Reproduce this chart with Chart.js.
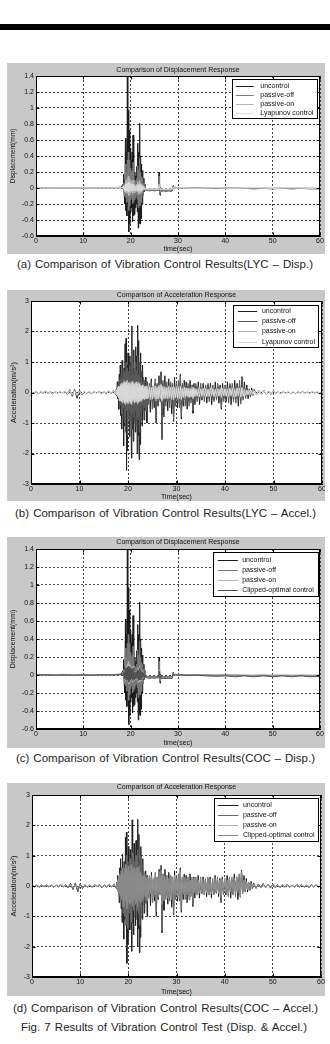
<!DOCTYPE html>
<html lang="en">
<head>
<meta charset="UTF-8">
<title>Fig. 7 Results of Vibration Control Test</title>
<script src="https://cdn.jsdelivr.net/npm/chart.js@4.4.0/dist/chart.umd.min.js"></script>
<style>
  body { margin: 0; width: 330px; height: 1044px; overflow: hidden; background: #fff; position: relative;
         font-family: "Liberation Sans", Arial, sans-serif; }
  .bar { position: absolute; left: 0; top: 24px; width: 330px; height: 6px; background: #000; }
  .panel { position: absolute; left: 7px; width: 318px; background: #c8c8c8; }
  .panel canvas { display: block; }
  .cap { position: absolute; font-size: 11.5px; line-height: 13px; color: #1e1e1e;
         text-align: justify; text-align-last: justify; }
</style>
</head>
<body>
<div class="bar"></div>

<div class="panel" style="top:63px;height:191px"><canvas id="chartA" width="318" height="191"></canvas></div>
<div class="cap" style="left:17px;top:258px;width:296px">(a) Comparison of Vibration Control Results(LYC – Disp.)</div>

<div class="panel" style="top:290px;height:211px"><canvas id="chartB" width="318" height="211"></canvas></div>
<div class="cap" style="left:15px;top:507px;width:301px">(b) Comparison of Vibration Control Results(LYC – Accel.)</div>

<div class="panel" style="top:537px;height:211px"><canvas id="chartC" width="318" height="211"></canvas></div>
<div class="cap" style="left:16px;top:752px;width:299px">(c) Comparison of Vibration Control Results(COC – Disp.)</div>

<div class="panel" style="top:783px;height:213px"><canvas id="chartD" width="318" height="213"></canvas></div>
<div class="cap" style="left:13px;top:1002px;width:305px">(d) Comparison of Vibration Control Results(COC – Accel.)</div>
<div class="cap" style="left:21px;top:1021px;width:286px">Fig. 7 Results of Vibration Control Test (Disp. &amp; Accel.)</div>

<script>
// ---------- axis ticks ----------
const timeTicks = [0, 10, 20, 30, 40, 50, 60];
const timeTickLabels = ['0', '10', '20', '30', '40', '50', '60'];
const dispTicks = [-0.6, -0.4, -0.2, 0, 0.2, 0.4, 0.6, 0.8, 1, 1.2, 1.4];
const dispTickLabels = ['-0.6', '-0.4', '-0.2', '0', '0.2', '0.4', '0.6', '0.8', '1', '1.2', '1.4'];
const accTicks = [-3, -2, -1, 0, 1, 2, 3];
const accTickLabels = ['-3', '-2', '-1', '0', '1', '2', '3'];

const labelsLyc = ['uncontrol', 'passive-off', 'passive-on', 'Lyapunov control'];
const labelsCoc = ['uncontrol', 'passive-off', 'passive-on', 'Clipped-optimal control'];

// ---------- displacement (mm) (a)/(c) ----------
const dispTime = [
  0, 2, 4, 6, 8, 10, 12, 14, 16, 18,
  18.4, 18.5, 18.6, 18.7, 18.8, 18.9, 19.0, 19.1, 19.2, 19.3, 19.4, 19.5, 19.6, 19.7, 19.8, 19.9,
  20.0, 20.1, 20.2, 20.3, 20.4, 20.5, 20.6, 20.7, 20.8, 20.9, 21.0, 21.1, 21.2, 21.3, 21.4, 21.5,
  21.6, 21.7, 21.8, 21.9, 22.0, 22.1, 22.2, 22.3, 22.4, 22.5, 22.6, 22.7, 22.8, 22.9, 23.0,
  23.5, 24, 24.5, 25, 25.5, 25.8, 25.9, 26, 26.1, 26.2, 26.3, 26.5, 27, 27.5, 28, 28.5,
  28.8, 29, 29.2, 29.5, 30, 31, 32, 34, 36, 38, 40, 42, 44, 46, 48, 50, 52, 54, 56, 58, 60
];
const dispUncontrol = [
  0, 0.003, -0.002, 0.002, -0.003, 0.002, -0.002, 0.003, 0.002, 0.01,
  0.05, 0.17, -0.05, 0.1, -0.2, 0.62, -0.28, 0.45, -0.35, 1.5, -0.2, 0.97, -0.55, 0.72, -0.45, 0.5,
  -0.3, 0.35, -0.25, 0.45, -0.42, 0.66, -0.35, 0.3, -0.33, 0.2, -0.25, 0.15, -0.2, 0.27, -0.3, 0.56,
  -0.5, 0.45, -0.44, 0.81, -0.45, 0.4, -0.38, 0.3, -0.2, 0.22, -0.1, 0.12, -0.05, 0.05, -0.02,
  -0.03, -0.035, -0.03, -0.035, -0.03, -0.03, 0.05, 0.2, 0.08, -0.09, 0.01, -0.04, -0.035, -0.04, -0.035, -0.04,
  -0.035, 0.03, -0.01, 0.01, 0, 0.005, 0, 0, 0, -0.005, 0, -0.005, -0.005, -0.01, -0.005, -0.01, -0.005, -0.01, -0.005, -0.01, -0.01
];
const dispPassiveOff = [
  0, 0.002, -0.002, 0.002, -0.002, 0.002, -0.002, 0.002, 0.001, 0.005,
  0.02, 0.06, -0.02, 0.05, -0.1, 0.3, -0.12, 0.2, -0.18, 0.35, -0.1, 0.45, -0.28, 0.35, -0.22, 0.25,
  -0.15, 0.18, -0.12, 0.22, -0.2, 0.32, -0.18, 0.14, -0.15, 0.1, -0.12, 0.08, -0.1, 0.12, -0.14, 0.28,
  -0.25, 0.22, -0.22, 0.38, -0.22, 0.2, -0.18, 0.14, -0.1, 0.12, -0.05, 0.06, -0.03, 0.02, -0.03,
  -0.03, -0.03, -0.03, -0.03, -0.03, -0.03, 0.03, 0.15, 0.05, -0.07, 0, -0.035, -0.03, -0.035, -0.03, -0.035,
  -0.03, 0.02, -0.01, 0.005, 0, 0.003, 0, 0, -0.003, 0, -0.003, 0, -0.003, -0.005, 0, -0.005, -0.003, -0.005, -0.003, -0.005, -0.005
];
const dispPassiveOn = [
  0, 0.001, -0.001, 0.001, -0.001, 0.001, -0.001, 0.001, 0.001, 0.003,
  0.01, 0.03, -0.02, 0.03, -0.05, 0.1, -0.06, 0.08, -0.07, 0.12, -0.05, 0.15, -0.1, 0.12, -0.08, 0.1,
  -0.06, 0.07, -0.05, 0.08, -0.08, 0.1, -0.06, 0.05, -0.06, 0.04, -0.05, 0.03, -0.04, 0.05, -0.05, 0.08,
  -0.08, 0.07, -0.07, 0.1, -0.07, 0.06, -0.06, 0.05, -0.04, 0.04, -0.03, 0.02, -0.02, 0, -0.02,
  -0.02, -0.02, -0.02, -0.02, -0.02, -0.02, 0, 0.05, 0.02, -0.03, -0.01, -0.02, -0.02, -0.02, -0.02, -0.02,
  -0.02, 0.01, -0.01, 0, 0, 0, 0, 0, 0, 0, 0, 0, 0, 0, 0, 0, 0, 0, 0, 0, 0
];
const dispLyapunov = [
  0, 0.001, -0.001, 0.001, -0.001, 0.001, -0.001, 0.001, 0.001, 0.002,
  0, 0.02, -0.01, 0.02, -0.03, 0.05, -0.04, 0.05, -0.04, 0.06, -0.03, 0.07, -0.05, 0.06, -0.04, 0.05,
  -0.03, 0.04, -0.03, 0.04, -0.04, 0.05, -0.03, 0.03, -0.03, 0.02, -0.03, 0.02, -0.02, 0.03, -0.03, 0.04,
  -0.04, 0.04, -0.04, 0.05, -0.04, 0.03, -0.03, 0.03, -0.02, 0.02, -0.02, 0.01, -0.01, 0, -0.01,
  -0.01, -0.01, -0.01, -0.01, -0.01, -0.01, 0, 0.02, 0.01, -0.01, 0, -0.01, -0.01, -0.01, -0.01, -0.01,
  -0.01, 0.005, 0, 0, 0, 0.005, 0, -0.005, 0, 0.005, 0, -0.005, 0, 0.005, 0, -0.005, 0, 0.005, 0, -0.005, 0
];
const dispClipped = [
  0, 0.002, -0.002, 0.002, -0.002, 0.002, -0.002, 0.002, 0.002, 0.004,
  0.01, 0.03, -0.02, 0.03, -0.04, 0.08, -0.05, 0.07, -0.06, 0.09, -0.04, 0.1, -0.08, 0.09, -0.06, 0.08,
  -0.05, 0.06, -0.04, 0.06, -0.06, 0.08, -0.05, 0.04, -0.05, 0.03, -0.04, 0.03, -0.03, 0.04, -0.04, 0.06,
  -0.06, 0.05, -0.05, 0.08, -0.05, 0.05, -0.05, 0.04, -0.03, 0.03, -0.02, 0.02, -0.02, 0, -0.02,
  -0.02, -0.02, -0.02, -0.02, -0.02, -0.02, 0, 0.04, 0.01, -0.03, -0.01, -0.02, -0.02, -0.02, -0.02, -0.02,
  -0.02, 0.01, -0.005, 0, 0, 0, -0.005, 0, -0.01, -0.015, -0.01, -0.02, -0.01, -0.02, -0.01, -0.02, -0.01, -0.02, -0.01, -0.02, -0.015
];

// ---------- acceleration (m/s^2) (b)/(d) ----------
const accTime = [
  0, 0.5, 1, 1.5, 2, 2.5, 3, 3.5, 4, 4.5, 5, 5.5, 6, 6.5, 7, 7.5, 8, 8.5, 9, 9.5,
  10, 10.5, 11, 11.5, 12, 12.5, 13, 13.5, 14, 14.5, 15, 15.5, 16, 16.5, 17, 17.5,
  17.6, 17.7, 17.8, 17.9, 18.0, 18.1, 18.2, 18.3, 18.4, 18.5,
  18.6, 18.7, 18.8, 18.9, 19.0, 19.1, 19.2, 19.3, 19.4, 19.5,
  19.6, 19.7, 19.8, 19.9, 20.0, 20.1, 20.2, 20.3, 20.4, 20.5,
  20.6, 20.7, 20.8, 20.9, 21.0, 21.1, 21.2, 21.3, 21.4, 21.5,
  21.6, 21.7, 21.8, 21.9, 22.0, 22.1, 22.2, 22.3, 22.4, 22.5,
  22.6, 22.7, 22.8, 22.9, 23.0, 23.1, 23.2, 23.3, 23.4, 23.5,
  23.6, 23.7, 23.8, 23.9, 24.0,
  24.2, 24.4, 24.6, 24.8, 25.0, 25.2, 25.4, 25.6, 25.8, 26.0,
  26.2, 26.4, 26.6, 26.8, 27.0, 27.2, 27.4, 27.6, 27.8, 28.0,
  28.2, 28.4, 28.6, 28.8, 29.0, 29.2, 29.4, 29.6, 29.8, 30.0,
  30.2, 30.4, 30.6, 30.8, 31.0, 31.2, 31.4, 31.6, 31.8, 32.0,
  32.2, 32.4, 32.6, 32.8, 33.0, 33.2, 33.4, 33.6, 33.8, 34.0,
  34.25, 34.5, 34.75, 35, 35.25, 35.5, 35.75, 36,
  36.25, 36.5, 36.75, 37, 37.25, 37.5, 37.75, 38,
  38.25, 38.5, 38.75, 39, 39.25, 39.5, 39.75, 40,
  40.25, 40.5, 40.75, 41, 41.25, 41.5, 41.75, 42,
  42.25, 42.5, 42.75, 43, 43.25, 43.5, 43.75, 44,
  44.25, 44.5, 44.75, 45, 45.25, 45.5, 45.75, 46,
  46.5, 47, 47.5, 48, 48.5, 49, 49.5, 50, 50.5, 51, 51.5, 52, 52.5, 53,
  53.5, 54, 54.5, 55, 55.5, 56, 56.5, 57, 57.5, 58, 58.5, 59, 59.5, 60
];
const accUncontrol = [
  0.01, -0.03, 0.02, -0.04, 0.03, -0.02, 0.04, -0.03, 0.02, -0.05, 0.03, -0.02, 0.04, -0.03, 0.05, -0.06, 0.09, -0.12, 0.1, -0.19,
  0.07, -0.08, 0.04, -0.05, 0.03, -0.04, 0.05, -0.03, 0.04, -0.05, 0.03, -0.04, 0.05, -0.03, 0.06, -0.08,
  0.12, -0.08, 0.35, -0.2, 0.25, -0.55, 0.6, -0.3, 0.9, -0.75,
  0.4, -1.2, 1.05, -0.5, 0.7, -1.75, 0.8, -1.1, 1.6, -0.9,
  1.78, -2.55, 0.9, -1.9, 1.3, -0.7, 0.6, -1.45, 1.2, -0.8,
  0.95, -2.15, 2.18, -1.2, 0.8, -1.6, 1.4, -0.9, 0.7, -1.3,
  1.5, -0.95, 1.2, -2.0, 2.2, -1.4, 1.7, -2.2, 0.9, -1.7,
  1.3, -0.7, 0.6, -1.1, 0.9, -0.5, 0.45, -0.9, 0.3, -0.55,
  0.5, -0.4, 0.25, -1.0, 0.35,
  -0.35, 0.2, -0.65, 0.45, -0.3, 0.15, -0.5, 0.3, -1.0, 0.25,
  -0.45, 0.55, -0.25, 0.68, -1.55, 0.3, -0.8, 0.55, -0.3, 0.2,
  -0.6, 0.45, -0.25, 0.3, -0.7, 0.15, -0.95, 0.5, -0.3, 0.25,
  -0.5, 0.3, -0.35, 0.6, -0.87, 0.2, -0.45, 0.4, -0.25, 0.35,
  -0.55, 0.2, -0.3, 0.4, -0.25, 0.15, -0.68, 0.3, -0.4, 0.2,
  -0.2, 0.35, -0.4, 0.15, -0.25, 0.3, -0.15, 0.2,
  -0.35, 0.25, -0.2, 0.3, -0.4, 0.15, -0.25, 0.35,
  -0.2, 0.2, -0.35, 0.25, -0.55, 0.3, -0.2, 0.15,
  -0.3, 0.35, -0.2, 0.25, -0.4, 0.2, -0.25, 0.4,
  -0.2, 0.3, -0.45, 0.25, -0.3, 0.52, -0.2, 0.35,
  -0.15, 0.25, -0.2, 0.1, -0.12, 0.15, -0.08, 0.1,
  -0.08, 0.07, -0.06, 0.08, -0.06, 0.05, -0.07, 0.06, -0.05, 0.04, -0.05, 0.04, -0.04, 0.05,
  -0.04, 0.03, -0.05, 0.04, -0.03, 0.04, -0.04, 0.03, -0.05, 0.04, -0.03, 0.04, -0.04, 0.02
];
const accPassiveOff = [
  0.02, -0.02, 0.03, -0.03, 0.02, -0.03, 0.03, -0.02, 0.03, -0.04, 0.02, -0.03, 0.03, -0.02, 0.04, -0.05, 0.07, -0.1, 0.08, -0.15,
  0.06, -0.07, 0.03, -0.04, 0.02, -0.03, 0.04, -0.02, 0.03, -0.04, 0.02, -0.03, 0.04, -0.02, 0.05, -0.06,
  0.08, -0.12, 0.2, -0.15, 0.3, -0.25, 0.4, -0.45, 0.5, -0.35,
  0.6, -0.7, 0.45, -0.9, 0.8, -0.5, 0.6, -1.0, 0.7, -1.3,
  1.0, -0.6, 0.8, -1.4, 0.5, -0.9, 0.7, -0.6, 0.9, -1.1,
  0.6, -1.2, 1.1, -0.7, 1.0, -0.8, 0.6, -1.0, 0.8, -0.6,
  1.0, -1.1, 0.7, -0.8, 1.2, -0.9, 0.6, -1.3, 1.0, -0.7,
  0.5, -0.9, 0.7, -0.4, 0.35, -0.6, 0.5, -0.3, 0.4, -0.5,
  0.2, -0.6, 0.35, -0.5, 0.25,
  -0.4, 0.3, -0.2, 0.35, -0.55, 0.2, -0.35, 0.45, -0.85, 0.3,
  -0.35, 0.5, -0.3, 0.6, -1.45, 0.4, -0.5, 0.3, -0.45, 0.35,
  -0.3, 0.25, -0.5, 0.35, -0.4, 0.3, -0.9, 0.2, -0.45, 0.3,
  -0.25, 0.4, -0.5, 0.55, -0.8, 0.3, -0.3, 0.25, -0.45, 0.2,
  -0.3, 0.3, -0.45, 0.2, -0.35, 0.25, -0.6, 0.2, -0.25, 0.3,
  -0.3, 0.2, -0.15, 0.3, -0.25, 0.15, -0.3, 0.25,
  -0.15, 0.3, -0.3, 0.2, -0.2, 0.25, -0.3, 0.15,
  -0.25, 0.3, -0.15, 0.2, -0.5, 0.15, -0.3, 0.25,
  -0.2, 0.15, -0.35, 0.3, -0.2, 0.3, -0.3, 0.2,
  -0.35, 0.25, -0.2, 0.4, -0.38, 0.48, -0.25, 0.2,
  -0.2, 0.15, -0.1, 0.12, -0.15, 0.08, -0.1, 0.06,
  -0.06, 0.05, -0.05, 0.06, -0.05, 0.04, -0.05, 0.05, -0.04, 0.03, -0.04, 0.03, -0.03, 0.04,
  -0.03, 0.02, -0.04, 0.03, -0.02, 0.03, -0.03, 0.02, -0.04, 0.03, -0.02, 0.03, -0.03, 0.01
];
const accPassiveOn = [
  0.02, -0.02, 0.02, -0.03, 0.02, -0.02, 0.03, -0.02, 0.02, -0.03, 0.02, -0.02, 0.03, -0.02, 0.03, -0.03, 0.05, -0.06, 0.05, -0.08,
  0.04, -0.05, 0.02, -0.03, 0.02, -0.02, 0.03, -0.02, 0.02, -0.03, 0.02, -0.02, 0.03, -0.02, 0.04, -0.05,
  0.05, -0.08, 0.12, -0.1, 0.18, -0.15, 0.2, -0.25, 0.15, -0.28,
  0.3, -0.2, 0.25, -0.35, 0.2, -0.3, 0.38, -0.22, 0.3, -0.4,
  0.25, -0.35, 0.4, -0.2, 0.3, -0.38, 0.22, -0.3, 0.35, -0.25,
  0.3, -0.4, 0.2, -0.3, 0.38, -0.25, 0.3, -0.35, 0.2, -0.3,
  0.35, -0.2, 0.28, -0.38, 0.3, -0.25, 0.35, -0.3, 0.2, -0.28,
  0.25, -0.3, 0.18, -0.25, 0.22, -0.2, 0.25, -0.18, 0.2, -0.22,
  0.15, -0.2, 0.22, -0.15, 0.18,
  -0.2, 0.15, -0.25, 0.18, -0.15, 0.22, -0.2, 0.15, -0.28, 0.2,
  -0.18, 0.25, -0.2, 0.28, -0.3, 0.15, -0.22, 0.2, -0.15, 0.18,
  -0.22, 0.15, -0.2, 0.18, -0.25, 0.12, -0.25, 0.18, -0.15, 0.2,
  -0.15, 0.2, -0.22, 0.18, -0.25, 0.15, -0.18, 0.12, -0.2, 0.15,
  -0.15, 0.12, -0.18, 0.15, -0.12, 0.18, -0.2, 0.12, -0.15, 0.1,
  -0.12, 0.15, -0.1, 0.12, -0.15, 0.1, -0.12, 0.14,
  -0.1, 0.12, -0.15, 0.1, -0.12, 0.14, -0.1, 0.1,
  -0.13, 0.12, -0.1, 0.14, -0.18, 0.1, -0.12, 0.13,
  -0.1, 0.12, -0.15, 0.12, -0.12, 0.16, -0.1, 0.13,
  -0.15, 0.15, -0.12, 0.14, -0.16, 0.18, -0.12, 0.12,
  -0.1, 0.08, -0.08, 0.07, -0.06, 0.06, -0.05, 0.05,
  -0.05, 0.04, -0.04, 0.05, -0.04, 0.03, -0.04, 0.04, -0.03, 0.03, -0.03, 0.03, -0.02, 0.03,
  -0.03, 0.02, -0.03, 0.02, -0.02, 0.03, -0.02, 0.02, -0.03, 0.02, -0.02, 0.02, -0.02, 0.01
];
const accLyapunov = [
  0.03, -0.03, 0.03, -0.04, 0.03, -0.03, 0.04, -0.03, 0.03, -0.04, 0.03, -0.03, 0.04, -0.03, 0.04, -0.04, 0.06, -0.07, 0.06, -0.09,
  0.05, -0.06, 0.03, -0.04, 0.03, -0.03, 0.04, -0.03, 0.03, -0.04, 0.03, -0.03, 0.04, -0.03, 0.05, -0.06,
  0.08, -0.06, 0.15, -0.12, 0.2, -0.18, 0.15, -0.28, 0.22, -0.2,
  0.28, -0.3, 0.2, -0.25, 0.32, -0.22, 0.3, -0.35, 0.25, -0.3,
  0.35, -0.28, 0.25, -0.35, 0.2, -0.3, 0.32, -0.22, 0.28, -0.35,
  0.22, -0.3, 0.35, -0.25, 0.3, -0.2, 0.25, -0.32, 0.3, -0.22,
  0.25, -0.3, 0.35, -0.22, 0.28, -0.32, 0.2, -0.28, 0.3, -0.2,
  0.2, -0.25, 0.22, -0.18, 0.25, -0.2, 0.15, -0.22, 0.18, -0.15,
  0.2, -0.15, 0.15, -0.2, 0.12,
  -0.15, 0.2, -0.18, 0.15, -0.22, 0.18, -0.15, 0.22, -0.2, 0.15,
  -0.22, 0.2, -0.15, 0.25, -0.25, 0.2, -0.18, 0.15, -0.2, 0.15,
  -0.18, 0.2, -0.15, 0.15, -0.2, 0.18, -0.22, 0.15, -0.18, 0.15,
  -0.2, 0.15, -0.18, 0.2, -0.2, 0.12, -0.15, 0.18, -0.12, 0.15,
  -0.12, 0.15, -0.15, 0.1, -0.15, 0.12, -0.15, 0.15, -0.1, 0.12,
  -0.12, 0.1, -0.14, 0.12, -0.1, 0.14, -0.12, 0.1,
  -0.14, 0.1, -0.12, 0.14, -0.1, 0.12, -0.14, 0.1,
  -0.1, 0.12, -0.12, 0.1, -0.15, 0.14, -0.1, 0.12,
  -0.12, 0.1, -0.12, 0.14, -0.1, 0.12, -0.14, 0.1,
  -0.12, 0.14, -0.1, 0.15, -0.14, 0.15, -0.12, 0.1,
  -0.08, 0.08, -0.07, 0.07, -0.06, 0.07, -0.06, 0.06,
  -0.07, 0.07, -0.06, 0.07, -0.06, 0.06, -0.07, 0.06, -0.06, 0.05, -0.06, 0.06, -0.05, 0.06,
  -0.05, 0.05, -0.06, 0.05, -0.05, 0.06, -0.05, 0.05, -0.06, 0.05, -0.05, 0.05, -0.05, 0.03
];
const accClipped = [
  0.02, -0.03, 0.03, -0.03, 0.02, -0.03, 0.03, -0.03, 0.03, -0.04, 0.03, -0.02, 0.03, -0.03, 0.04, -0.04, 0.06, -0.08, 0.07, -0.1,
  0.05, -0.06, 0.03, -0.03, 0.03, -0.03, 0.04, -0.03, 0.03, -0.04, 0.03, -0.03, 0.04, -0.03, 0.05, -0.06,
  0.1, -0.08, 0.2, -0.18, 0.3, -0.25, 0.4, -0.3, 0.35, -0.45,
  0.5, -0.35, 0.6, -0.55, 0.4, -0.7, 0.55, -0.45, 0.7, -0.5,
  0.6, -0.75, 0.45, -0.55, 0.65, -0.4, 0.5, -0.6, 0.4, -0.55,
  0.7, -0.45, 0.55, -0.65, 0.4, -0.5, 0.6, -0.4, 0.5, -0.6,
  0.45, -0.55, 0.6, -0.7, 0.5, -0.45, 0.65, -0.5, 0.4, -0.55,
  0.45, -0.4, 0.35, -0.5, 0.3, -0.4, 0.35, -0.3, 0.4, -0.35,
  0.3, -0.4, 0.25, -0.45, 0.3,
  -0.3, 0.35, -0.25, 0.3, -0.4, 0.25, -0.3, 0.4, -0.5, 0.3,
  -0.35, 0.45, -0.3, 0.5, -0.6, 0.35, -0.45, 0.3, -0.3, 0.35,
  -0.4, 0.25, -0.35, 0.3, -0.45, 0.25, -0.5, 0.35, -0.3, 0.25,
  -0.35, 0.3, -0.4, 0.45, -0.5, 0.3, -0.25, 0.3, -0.35, 0.25,
  -0.3, 0.25, -0.35, 0.2, -0.3, 0.3, -0.4, 0.25, -0.2, 0.25,
  -0.25, 0.2, -0.22, 0.25, -0.2, 0.22, -0.25, 0.2,
  -0.22, 0.25, -0.2, 0.22, -0.25, 0.2, -0.22, 0.25,
  -0.2, 0.22, -0.25, 0.2, -0.35, 0.22, -0.2, 0.25,
  -0.22, 0.2, -0.25, 0.25, -0.2, 0.28, -0.22, 0.25,
  -0.28, 0.3, -0.22, 0.28, -0.35, 0.38, -0.25, 0.2,
  -0.15, 0.15, -0.12, 0.1, -0.1, 0.08, -0.08, 0.07,
  -0.06, 0.05, -0.05, 0.06, -0.05, 0.05, -0.06, 0.05, -0.05, 0.04, -0.05, 0.04, -0.04, 0.05,
  -0.04, 0.04, -0.05, 0.04, -0.04, 0.05, -0.04, 0.04, -0.05, 0.04, -0.04, 0.04, -0.04, 0.02
];

// ---------- drawing ----------
const fam = '"Liberation Sans", Arial, sans-serif';
Chart.defaults.font.family = fam;

// white axes box, inward ticks, full frame and boxed legend (matlab look)
const matlabAxes = {
  id: 'matlabAxes',
  beforeDraw(chart) {
    const { ctx, chartArea: a } = chart;
    ctx.save();
    ctx.fillStyle = '#fff';
    ctx.fillRect(a.left, a.top, a.right - a.left, a.bottom - a.top);
    ctx.restore();
  },
  afterDatasetsDraw(chart, args, opts) {
    const { ctx, chartArea: a, scales } = chart;
    const L = Math.round(a.left) + 0.5, R = Math.round(a.right) - 0.5;
    const T = Math.round(a.top) + 0.5, B = Math.round(a.bottom) - 0.5;
    ctx.save();
    ctx.strokeStyle = '#000';
    ctx.lineWidth = 1;
    ctx.strokeRect(L, T, R - L, B - T);
    ctx.beginPath();
    scales.x.ticks.forEach(t => {
      const px = Math.round(scales.x.getPixelForValue(t.value)) + 0.5;
      ctx.moveTo(px, B); ctx.lineTo(px, B - 3);
      ctx.moveTo(px, T); ctx.lineTo(px, T + 3);
    });
    scales.y.ticks.forEach(t => {
      const py = Math.round(scales.y.getPixelForValue(t.value)) + 0.5;
      ctx.moveTo(L, py); ctx.lineTo(L + 3, py);
      ctx.moveTo(R, py); ctx.lineTo(R - 3, py);
    });
    ctx.stroke();

    // legend
    const sets = chart.data.datasets;
    ctx.font = '7px ' + fam;
    const textW = Math.max(...sets.map(d => ctx.measureText(d.label).width));
    const w = Math.round(opts.padL + opts.lineLen + opts.gap + textW + opts.padR);
    const h = Math.round(opts.rowH * (sets.length - 1) + opts.padV * 2);
    const x0 = Math.round(a.right - opts.right - w) + 0.5;
    const y0 = Math.round(a.top + opts.top) + 0.5;
    ctx.fillStyle = '#fff';
    ctx.fillRect(x0, y0, w, h);
    ctx.strokeRect(x0, y0, w, h);
    ctx.textBaseline = 'middle';
    ctx.textAlign = 'left';
    sets.forEach((d, i) => {
      const y = Math.round(y0 + opts.padV + i * opts.rowH) + 0.5;
      ctx.strokeStyle = d.borderColor;
      ctx.lineWidth = 1;
      ctx.beginPath();
      ctx.moveTo(x0 + opts.padL, y);
      ctx.lineTo(x0 + opts.padL + opts.lineLen, y);
      ctx.stroke();
      ctx.fillStyle = '#111';
      ctx.fillText(d.label, x0 + opts.padL + opts.lineLen + opts.gap, y);
    });
    ctx.restore();
  }
};

function drawPanel(id, p) {
  return new Chart(document.getElementById(id), {
    type: 'line',
    data: {
      datasets: p.series.map((s, i) => ({
        label: p.labels[i],
        data: p.time.map((t, k) => ({ x: t, y: s[k] })),
        borderColor: p.colors[i],
        borderWidth: 1,
        pointRadius: 0,
        tension: 0,
        fill: false,
        order: p.series.length - i   // later series drawn on top, like matlab
      }))
    },
    options: {
      responsive: false,
      animation: false,
      devicePixelRatio: 1,
      layout: { padding: { left: 0, right: p.padRight, top: 0, bottom: 0 } },
      plugins: {
        legend: { display: false },
        tooltip: { enabled: false },
        title: {
          display: true, text: p.title, fullSize: false, color: '#111',
          font: { size: 7, weight: 'normal' },
          padding: { top: p.titlePad[0], bottom: p.titlePad[1] }
        },
        matlabAxes: p.legend
      },
      scales: {
        x: {
          type: 'linear', min: 0, max: 60,
          afterBuildTicks: s => { s.ticks = timeTicks.map(v => ({ value: v })); },
          afterFit: s => { s.height = p.xAxisH; s.paddingLeft = 0; s.paddingRight = 0; },
          ticks: { callback: (v, i) => timeTickLabels[i], color: '#111', font: { size: 7 }, padding: 1, maxRotation: 0, autoSkip: false },
          grid: { color: '#444', lineWidth: 1, drawTicks: false },
          border: { display: true, color: '#000', dash: [2, 2] },
          title: { display: true, text: p.xTitle, color: '#111', font: { size: 7 }, padding: { top: 0, bottom: p.xTitlePad } }
        },
        y: {
          type: 'linear', min: p.yTicks[0], max: p.yTicks[p.yTicks.length - 1],
          afterBuildTicks: s => { s.ticks = p.yTicks.map(v => ({ value: v })); },
          afterFit: s => { s.width = p.yAxisW; s.paddingTop = 0; s.paddingBottom = 0; },
          ticks: { callback: (v, i) => p.yTickLabels[i], color: '#111', font: { size: 7 }, padding: 2, autoSkip: false },
          grid: { color: '#444', lineWidth: 1, drawTicks: false },
          border: { display: true, color: '#000', dash: [2, 2] },
          title: { display: true, text: p.yTitle, color: '#111', font: { size: p.yTitleSize }, padding: { top: p.yTitlePad, bottom: 0 } }
        }
      }
    },
    plugins: [matlabAxes]
  });
}

drawPanel('chartA', {
  title: 'Comparison of Displacement Response', xTitle: 'time(sec)', yTitle: 'Displacement(mm)',
  time: dispTime, series: [dispUncontrol, dispPassiveOff, dispPassiveOn, dispLyapunov], labels: labelsLyc,
  colors: ['#1a1a1a', '#7a7a7a', '#b4b4b4', '#dadada'],
  yTicks: dispTicks, yTickLabels: dispTickLabels,
  yAxisW: 29, padRight: 5, titlePad: [3, 1.6], xAxisH: 18, xTitlePad: 0.8, yTitleSize: 6.5, yTitlePad: 2,
  legend: { right: 3, top: 2.5, rowH: 9, padV: 6, padL: 3.3, lineLen: 18, gap: 6.5, padR: 4 }
});
drawPanel('chartB', {
  title: 'Comparison of Acceleration Response', xTitle: 'Time(sec)', yTitle: 'Acceleration(m/s²)',
  time: accTime, series: [accUncontrol, accPassiveOff, accPassiveOn, accLyapunov], labels: labelsLyc,
  colors: ['#222222', '#5a5a5a', '#b0b0b0', '#d8d8d8'],
  yTicks: accTicks, yTickLabels: accTickLabels,
  yAxisW: 24, padRight: 3, titlePad: [0.4, 2.2], xAxisH: 17, xTitlePad: 0, yTitleSize: 7.5, yTitlePad: 2.5,
  legend: { right: 4.3, top: 4, rowH: 10.1, padV: 5.7, padL: 4.4, lineLen: 19.3, gap: 4.7, padR: 3.7 }
});
drawPanel('chartC', {
  title: 'Comparison of Displacement Response', xTitle: 'time(sec)', yTitle: 'Displacement(mm)',
  time: dispTime, series: [dispUncontrol, dispPassiveOff, dispPassiveOn, dispClipped], labels: labelsCoc,
  colors: ['#1a1a1a', '#7a7a7a', '#b4b4b4', '#505050'],
  yTicks: dispTicks, yTickLabels: dispTickLabels,
  yAxisW: 29, padRight: 5, titlePad: [1, 2.6], xAxisH: 19, xTitlePad: 0.5, yTitleSize: 7, yTitlePad: 2,
  legend: { right: 1.7, top: 2.7, rowH: 10.1, padV: 7, padL: 4.4, lineLen: 20, gap: 4.3, padR: 4.3 }
});
drawPanel('chartD', {
  title: 'Comparison of Acceleration Response', xTitle: 'Time(sec)', yTitle: 'Acceleration(m/s²)',
  time: accTime, series: [accUncontrol, accPassiveOff, accPassiveOn, accClipped], labels: labelsCoc,
  colors: ['#222222', '#6a6a6a', '#b0b0b0', '#8a8a8a'],
  yTicks: accTicks, yTickLabels: accTickLabels,
  yAxisW: 25, padRight: 4, titlePad: [0, 3.6], xAxisH: 19, xTitlePad: 0, yTitleSize: 7.5, yTitlePad: 2.5,
  legend: { right: 2.7, top: 3.3, rowH: 10.1, padV: 6.3, padL: 3.4, lineLen: 20.6, gap: 4.4, padR: 4 }
});
</script>
</body>
</html>
